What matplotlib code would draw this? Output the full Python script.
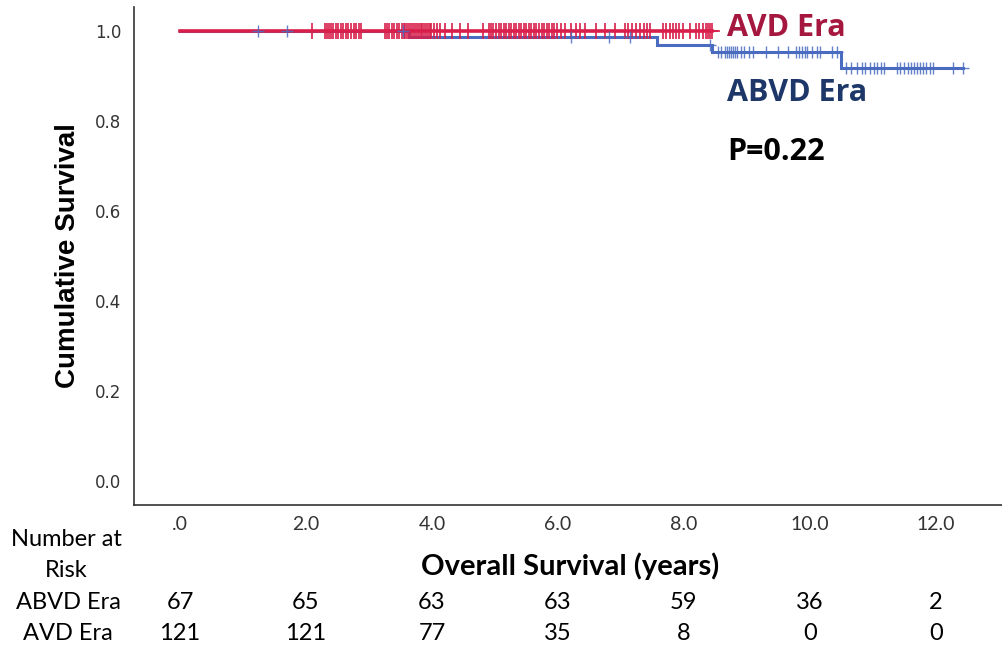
import matplotlib
matplotlib.use("Agg")
import matplotlib.pyplot as plt
import numpy as np

# ---- data ----
abvd_event_times = [3.63, 7.57, 8.44, 10.49]
abvd_surv_levels = [1.0, 0.987, 0.969, 0.953, 0.918]
abvd_censor = [1.24, 1.70, 3.54, 6.20, 6.81, 7.14, 8.41,
               8.54, 8.59, 8.65, 8.68, 8.71, 8.74, 8.78, 8.81, 8.85, 8.90, 8.95, 9.03, 9.10,
               9.30, 9.50, 9.65, 9.78, 9.83, 9.88, 9.92, 9.96,
               10.03, 10.11, 10.16, 10.35, 10.43,
               10.57, 10.65, 10.75, 10.83, 10.88, 10.95, 11.02, 11.07, 11.13, 11.18,
               11.38, 11.43, 11.50, 11.55, 11.60, 11.65, 11.70, 11.75, 11.80, 11.85,
               11.90, 11.95, 12.27, 12.43]
avd_event_times = []
avd_surv_levels = [1.0]
avd_censor = [2.10, 2.30, 2.33, 2.36, 2.40, 2.43, 2.47, 2.51, 2.55, 2.59, 2.63, 2.67,
              2.72, 2.76, 2.80, 2.84, 2.87, 3.26, 3.29, 3.32, 3.36, 3.40, 3.44, 3.48,
              3.52, 3.55, 3.58, 3.61, 3.64, 3.67, 3.70, 3.73, 3.76, 3.79, 3.82, 3.85,
              3.88, 3.91, 3.94, 3.97, 3.99,
              4.03, 4.08, 4.13, 4.20, 4.32, 4.44, 4.57, 4.81, 4.90, 4.93, 4.97, 5.02,
              5.06, 5.10, 5.14, 5.18, 5.22, 5.26, 5.30, 5.34, 5.38, 5.42, 5.46, 5.50,
              5.54, 5.58, 5.62, 5.66, 5.70, 5.74, 5.78, 5.82, 5.86, 5.90, 5.94, 5.98,
              6.05, 6.12, 6.20, 6.28, 6.35, 6.43, 6.60, 6.75, 6.90, 7.06, 7.12, 7.18,
              7.24, 7.30, 7.36, 7.42, 7.46, 7.67, 7.72, 7.78, 7.82, 7.87, 7.93, 7.98,
              8.10, 8.20, 8.24, 8.30, 8.35, 8.38, 8.42, 8.45]

xtick_vals = [0, 2, 4, 6, 8, 10, 12]
xtick_labels = [".0", "2.0", "4.0", "6.0", "8.0", "10.0", "12.0"]
ytick_vals = [0.0, 0.2, 0.4, 0.6, 0.8, 1.0]
risk_groups = ["ABVD Era", "AVD Era"]
risk_abvd = [67, 65, 63, 63, 59, 36, 2]
risk_avd = [121, 121, 77, 35, 8, 0, 0]
p_text = "P=0.22"

RED = "#d81e4a"
BLUE = "#4a6cc0"
RED_TXT = "#a5173f"
NAVY = "#1d3768"

slide = ["Lato", "DejaVu Sans"]
spss = ["DejaVu Sans"]
spss_bold = ["Liberation Sans", "DejaVu Sans"]

def km_steps(event_times, levels, end):
    xs = [0.0]
    ys = [levels[0]]
    for t, lvl_prev, lvl in zip(event_times, levels[:-1], levels[1:]):
        xs += [t, t]
        ys += [lvl_prev, lvl]
    xs.append(end)
    ys.append(levels[-1])
    return np.array(xs), np.array(ys)

def surv_at(t, event_times, levels):
    idx = np.searchsorted(event_times, t, side="right")
    return levels[idx]

fig = plt.figure(figsize=(10.02, 6.47), dpi=100)
ax = fig.add_axes([0.1337, 0.2195, 0.8663, 0.7695])

bx, by = km_steps(abvd_event_times, abvd_surv_levels, max(abvd_censor))
rx, ry = km_steps(avd_event_times, avd_surv_levels, max(avd_censor))
ax.plot(bx, by, color=BLUE, lw=2.2, zorder=2, solid_joinstyle="miter")
ax.plot(rx, ry, color=RED, lw=2.6, zorder=3)
ax.plot(avd_censor, [surv_at(t, avd_event_times, avd_surv_levels) for t in avd_censor],
        ls="none", marker="+", ms=11, mew=1.2, color=RED, zorder=4)
ax.plot(abvd_censor, [surv_at(t, abvd_event_times, abvd_surv_levels) for t in abvd_censor],
        ls="none", marker="+", ms=9, mew=1.0, color=BLUE, alpha=0.85, zorder=5)

ax.set_xlim(-0.73, 13.05)
ax.set_ylim(-0.053, 1.053)
for s in ["top", "right"]:
    ax.spines[s].set_visible(False)
for s in ["left", "bottom"]:
    ax.spines[s].set_color("#333333")
    ax.spines[s].set_linewidth(1.2)

ax.set_yticks(ytick_vals)
ax.set_yticklabels([f"{v:.1f}" for v in ytick_vals], fontsize=12, color="#333333",
                   family=spss)
ax.tick_params(axis="y", length=0, pad=9)
ax.set_xticks(xtick_vals)
ax.set_xticklabels(xtick_labels, fontsize=14, color="#333333", family=slide)
ax.tick_params(axis="x", length=0, pad=8)

ax.set_ylabel("Cumulative Survival", fontsize=20, fontweight="bold", labelpad=10,
              family=spss_bold)

fig.text(0.569, 0.125, "Overall Survival (years)", ha="center", va="center",
         fontsize=21, fontweight="bold", family=slide)

fig.text(0.726, 0.957, "AVD Era", color=RED_TXT, fontsize=22, fontweight="bold",
         ha="left", va="center", family=["Open Sans", "DejaVu Sans"])
fig.text(0.726, 0.857, "ABVD Era", color=NAVY, fontsize=22, fontweight="bold",
         ha="left", va="center", family=["Open Sans", "DejaVu Sans"])
fig.text(0.726, 0.765, p_text, color="black", fontsize=22, fontweight="bold",
         ha="left", va="center", family=["Open Sans", "DejaVu Sans"])

fig.text(0.066, 0.142, "Number at\nRisk", ha="center", va="center", fontsize=17,
         family=slide, linespacing=1.6)
row_y = [0.069, 0.021]
for lab, yy in zip(risk_groups, row_y):
    fig.text(0.068, yy, lab, ha="center", va="center", fontsize=17, family=slide)
for counts, yy in zip([risk_abvd, risk_avd], row_y):
    for xv, c in zip(xtick_vals, counts):
        xf = ax.transData.transform((xv, 0))[0] / fig.bbox.width
        fig.text(xf, yy, str(c), ha="center", va="center", fontsize=17, family=slide)

fig.savefig("out.png", dpi=100)
